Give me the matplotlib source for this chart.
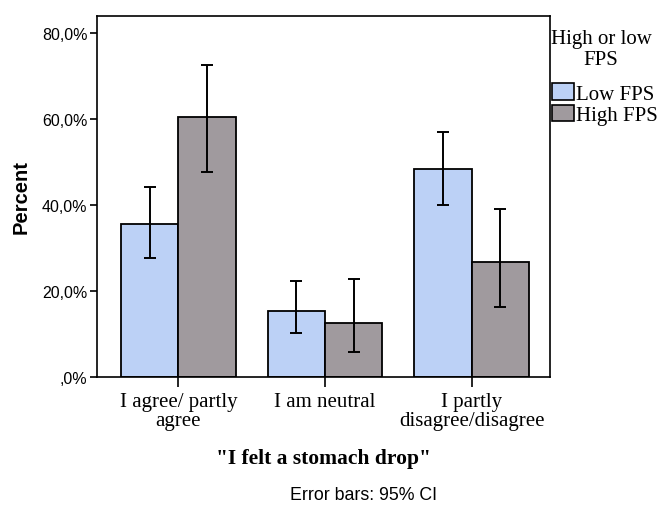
import numpy as np
import matplotlib.pyplot as plt
from matplotlib.ticker import FuncFormatter
from matplotlib.patches import Patch

# Responses to "I felt a stomach drop", split by frame rate group
categories = ["I agree/ partly\nagree", "I am neutral", "I partly\ndisagree/disagree"]
groups = ["Low FPS", "High FPS"]
low_pct = [35.6, 15.4, 48.5]
high_pct = [60.5, 12.5, 26.7]
# 95% CI bounds
low_ci_lo = [27.8, 10.2, 40.1]
low_ci_hi = [44.1, 22.4, 57.0]
high_ci_lo = [47.6, 5.9, 16.4]
high_ci_hi = [72.6, 22.9, 39.1]
yticks = [0, 20, 40, 60, 80]

LOW_COLOR = "#bcd1f6"
HIGH_COLOR = "#a09a9e"
SERIF = "Liberation Serif"
SANS = "Liberation Sans"

fig = plt.figure(figsize=(6.6, 5.06), dpi=100)
ax = fig.add_axes([97 / 660, 1 - 378 / 506, 453 / 660, 361 / 506])

x = np.arange(len(categories))
w = 0.39

for vals, lo, hi, off, col in [
    (low_pct, low_ci_lo, low_ci_hi, -w / 2, LOW_COLOR),
    (high_pct, high_ci_lo, high_ci_hi, w / 2, HIGH_COLOR),
]:
    vals = np.array(vals)
    yerr = np.vstack([vals - np.array(lo), np.array(hi) - vals])
    ax.bar(x + off, vals, width=w, color=col, edgecolor="black", linewidth=1.3, zorder=2)
    ax.errorbar(x + off, vals, yerr=yerr, fmt="none", ecolor="black",
                elinewidth=1.4, capsize=4, capthick=1.4, zorder=3)

ax.set_xlim(-0.555, 2.534)
ax.set_ylim(0, 84)
ax.set_yticks(yticks)
ax.yaxis.set_major_formatter(FuncFormatter(
    lambda v, p: ",0%" if v == 0 else f"{v:.1f}%".replace(".", ",")))
ax.set_xticks(x)
ax.set_xticklabels(categories, fontfamily=SERIF, fontsize=15, linespacing=1.0)
for lab in ax.get_yticklabels():
    lab.set_fontfamily(SANS)
    lab.set_fontsize(11.5)

ax.tick_params(axis="y", direction="out", length=5, width=1.2, pad=2)
ax.tick_params(axis="x", direction="out", length=7, width=1.2, pad=4)
for s in ax.spines.values():
    s.set_linewidth(1.2)

ax.set_ylabel("Percent", fontfamily=SANS, fontweight="bold", fontsize=14.5, labelpad=8)
ax.set_xlabel('"I felt a stomach drop"', fontfamily=SERIF, fontweight="bold",
              fontsize=15.5, labelpad=13)

fig.text(364 / 660, 1 - 496 / 506, "Error bars: 95% CI", fontfamily=SANS,
         fontsize=12.8, ha="center", va="center")

# legend title drawn separately so its spacing can be set independently
fig.text(601 / 660, 1 - 50 / 506, "High or low\nFPS", fontfamily=SERIF,
         fontsize=15, ha="center", va="center", multialignment="center",
         linespacing=1.1)

handles = [Patch(facecolor=LOW_COLOR, edgecolor="black", linewidth=1.2),
           Patch(facecolor=HIGH_COLOR, edgecolor="black", linewidth=1.2)]
leg = fig.legend(handles, groups, loc="upper left",
                 bbox_to_anchor=(552 / 660, 1 - 84 / 506), frameon=False,
                 prop={"family": SERIF, "size": 15},
                 handlelength=1.05, handleheight=0.85, handletextpad=0.1,
                 labelspacing=0.05, borderpad=0, borderaxespad=0)

fig.savefig("out.png", dpi=100)
